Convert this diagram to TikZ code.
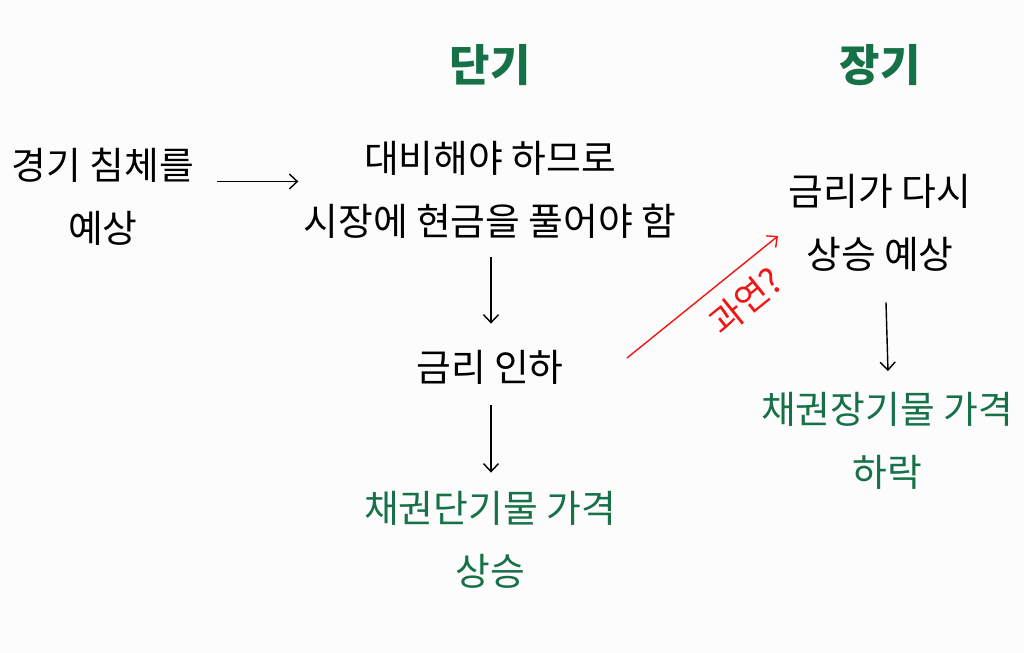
\documentclass[tikz,border=0pt]{standalone}
\usepackage{fontspec}
\setmainfont{Noto Sans CJK KR}
\usetikzlibrary{arrows.meta, positioning}
\definecolor{bondgreen}{RGB}{22,112,72}
\definecolor{doubtred}{RGB}{245,20,20}

\begin{document}
\begin{tikzpicture}[
    note/.style={align=center, font=\fontsize{21.5}{36}\selectfont},
    green note/.style={note, text=bondgreen},
    head/.style={font=\fontsize{25}{28}\selectfont\bfseries, text=bondgreen},
    flow/.style={-{Straight Barb[length=1.6mm,width=3mm]}, line width=0.8pt}
  ]
    \fill[white!99!black] (0,0) rectangle (20.48,-13.06);

    \node[head] (hs) at (9.80,-1.30) {단기};
    \node[head] (hl) at (17.60,-1.30) {장기};

    \node[note] (recess) at (2.06,-3.93) {경기 침체를\\예상};
    \node[note] (plan) at (9.80,-3.80) {대비해야 하므로\\시장에 현금을 풀어야 함};
    \node[note] (cut) at (9.80,-7.34) {금리 인하};
    \node[green note] (shortup) at (9.80,-10.80) {채권단기물 가격\\상승};

    \node[note] (rise) at (17.60,-4.45) {금리가 다시\\상승 예상};
    \node[green note] (longdown) at (17.74,-8.82) {채권장기물 가격\\하락};

    \coordinate (d1) at (12.54,-7.16);
    \coordinate (d2) at (15.56,-4.72);

    \draw[flow] ([shift={(0.34,0.3)}]recess.east) -- ++(1.62,0);
    \draw[flow] ([xshift=0.02cm,yshift=-0.25cm]plan.south) -- ([xshift=0.02cm,yshift=0.4cm]cut.north);
    \draw[flow] ([xshift=0.02cm,yshift=-0.3cm]cut.south) -- ([xshift=0.02cm,yshift=0.25cm]shortup.north);
    \draw[flow] ([xshift=0.12cm,yshift=-0.5cm]rise.south) -- ([xshift=0.02cm,yshift=0.3cm]longdown.north);
    \draw[flow, doubtred] (d1) -- node[pos=0.66, below=7pt, sloped, inner sep=1pt, text=doubtred, font=\fontsize{20}{22}\selectfont] {과연?} (d2);
\end{tikzpicture}
\end{document}
